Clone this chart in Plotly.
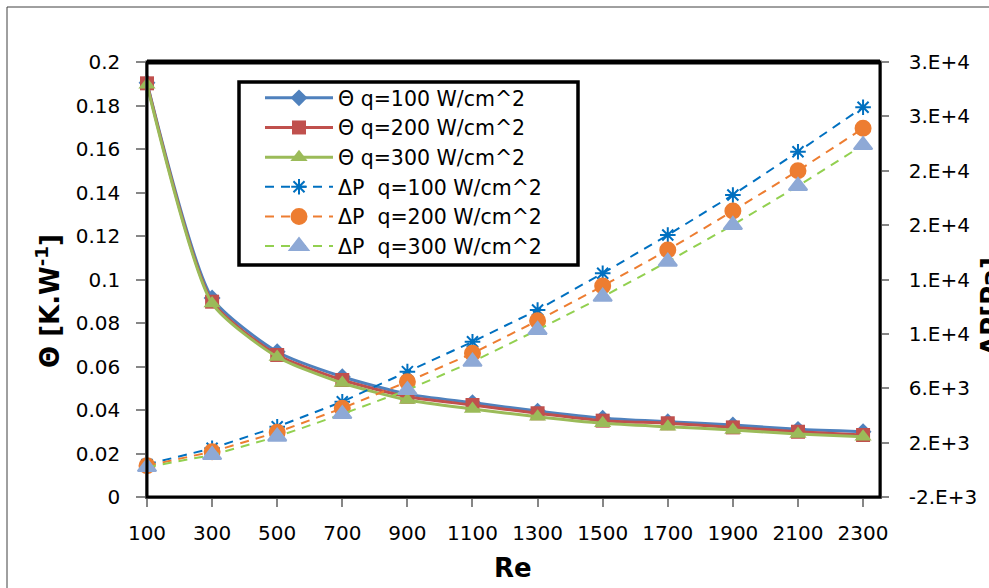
import plotly.graph_objects as go

# ---------------- data ----------------
re_vals = [100, 300, 500, 700, 900, 1100, 1300, 1500, 1700, 1900, 2100, 2300]

theta_q100 = [0.1905, 0.0915, 0.0668, 0.0553, 0.0473, 0.0434, 0.0395, 0.0362, 0.0346, 0.0331, 0.0311, 0.0300]
theta_q200 = [0.1902, 0.0898, 0.0653, 0.0538, 0.0461, 0.0423, 0.0385, 0.0351, 0.0339, 0.0320, 0.0300, 0.0285]
theta_q300 = [0.1895, 0.0890, 0.0644, 0.0524, 0.0446, 0.0405, 0.0369, 0.0339, 0.0323, 0.0308, 0.0290, 0.0277]

dp_q100 = [400, 1580, 3170, 5010, 7220, 9420, 11760, 14460, 17270, 20220, 23400, 26670]
dp_q200 = [300, 1330, 2760, 4530, 6480, 8570, 10970, 13520, 16170, 19040, 22000, 25120]
dp_q300 = [200, 1090, 2440, 4100, 5870, 7950, 10290, 12730, 15310, 18010, 20880, 23890]

theta_names = ["Θ q=100 W/cm^2", "Θ q=200 W/cm^2", "Θ q=300 W/cm^2"]
dp_names = ["ΔP\u00a0\u00a0q=100 W/cm^2", "ΔP\u00a0\u00a0q=200 W/cm^2", "ΔP\u00a0\u00a0q=300 W/cm^2"]

left_ticks = [0, 0.02, 0.04, 0.06, 0.08, 0.1, 0.12, 0.14, 0.16, 0.18, 0.2]
left_labels = ["0", "0.02", "0.04", "0.06", "0.08", "0.1", "0.12", "0.14", "0.16", "0.18", "0.2"]
right_ticks = [-2000, 2000, 6000, 10000, 14000, 18000, 22000, 26000, 30000]
right_labels = ["-2.E+3", "2.E+3", "6.E+3", "1.E+4", "1.E+4", "2.E+4", "2.E+4", "3.E+4", "3.E+4"]

FONT = "DejaVu Sans"

fig = go.Figure()

# Theta series (primary axis)
theta_series = [theta_q100, theta_q200, theta_q300]
theta_colors = ["#4F81BD", "#C0504D", "#9BBB59"]
theta_symbols = ["diamond", "square", "triangle-up"]
theta_sizes = [13, 14, 15]
for vals, name, col, sym, sz in zip(theta_series, theta_names, theta_colors, theta_symbols, theta_sizes):
    fig.add_trace(go.Scatter(
        x=re_vals, y=vals, name=name, mode="lines+markers",
        line=dict(color=col, width=3, shape="spline", smoothing=0.6),
        marker=dict(symbol=sym, size=sz, color=col),
        cliponaxis=False,
    ))

# Delta P series (secondary axis)
dp_series = [dp_q100, dp_q200, dp_q300]
dp_line_colors = ["#0070C0", "#ED7D31", "#92D050"]
dp_marker_colors = ["#0070C0", "#ED7D31", "#8EA9D6"]
dp_symbols = ["asterisk-open", "circle", "triangle-up"]
dp_sizes = [13, 15, 16]
for vals, name, lc, mc, sym, sz in zip(dp_series, dp_names, dp_line_colors, dp_marker_colors, dp_symbols, dp_sizes):
    fig.add_trace(go.Scatter(
        x=re_vals, y=vals, name=name, mode="lines+markers", yaxis="y2",
        line=dict(color=lc, width=2, dash="9px,7px"),
        marker=dict(symbol=sym, size=sz, color=mc, line=dict(color=mc, width=2)),
        cliponaxis=False,
    ))

W, H = 989, 588
L, R, T, B = 147, 880, 62, 497


def px_x(p):
    return (p - L) / (R - L)


def px_y(p):
    return (B - p) / (B - T)


fig.update_layout(
    width=W, height=H,
    margin=dict(l=L, r=W - R, t=T, b=H - B),
    paper_bgcolor="white", plot_bgcolor="white",
    font=dict(family=FONT, size=20, color="black"),
    showlegend=True,
    xaxis=dict(
        range=[100, 2352], tickvals=re_vals, ticktext=[str(v) for v in re_vals],
        ticks="outside", ticklen=8, tickcolor="#868686", tickwidth=1.5,
        showgrid=False, zeroline=False, showline=True, linecolor="#868686", linewidth=1.5,
        tickfont=dict(family=FONT, size=20), ticklabelstandoff=9,
    ),
    yaxis=dict(
        range=[0, 0.2], tickvals=left_ticks, ticktext=left_labels,
        ticks="outside", ticklen=9, tickcolor="#868686", tickwidth=1.5,
        showgrid=False, zeroline=False, showline=True, linecolor="#868686", linewidth=1.5,
        tickfont=dict(family=FONT, size=20), ticklabelstandoff=12,
    ),
    yaxis2=dict(
        range=[-2000, 30000], tickvals=right_ticks, ticktext=right_labels,
        overlaying="y", side="right",
        ticks="outside", ticklen=7, tickcolor="#868686", tickwidth=1.5,
        showgrid=False, zeroline=False, showline=True, linecolor="#868686", linewidth=1.5,
        tickfont=dict(family=FONT, size=20), ticklabelstandoff=16,
    ),
    legend=dict(
        x=px_x(260), y=px_y(78), xanchor="left", yanchor="top",
        bgcolor="rgba(0,0,0,0)", borderwidth=0,
        font=dict(family=FONT, size=20.5), itemwidth=68,
        traceorder="normal", tracegroupgap=0,
    ),
)

# legend frame
fig.add_shape(type="rect", xref="paper", yref="paper",
              x0=px_x(239), y0=px_y(265), x1=px_x(578), y1=px_y(82),
              line=dict(color="black", width=3.5), fillcolor="white", layer="below")

# plot-area border and outer chart border
fig.add_shape(type="rect", xref="paper", yref="paper", x0=0, y0=0, x1=1, y1=1,
              line=dict(color="black", width=3), layer="above")
fig.add_shape(type="line", xref="paper", yref="paper", x0=0, y0=1, x1=1, y1=1,
              line=dict(color="black", width=5), layer="above")
fig.add_shape(type="rect", xref="paper", yref="paper",
              x0=px_x(7), y0=px_y(700), x1=px_x(1100), y1=px_y(7),
              line=dict(color="#404040", width=1), layer="below")

# axis titles
fig.add_annotation(text="<b>Re</b>", xref="paper", yref="paper",
                   x=px_x(513), y=px_y(568), xanchor="center", yanchor="middle",
                   showarrow=False, font=dict(family=FONT, size=26))
fig.add_annotation(text="<b>Θ [K.W<sup>-1</sup>]</b>", xref="paper", yref="paper",
                   x=px_x(48), y=px_y(301), xanchor="center", yanchor="middle",
                   textangle=-90, showarrow=False, font=dict(family=FONT, size=26))
fig.add_annotation(text="<b>ΔP[Pa]</b>", xref="paper", yref="paper",
                   x=px_x(991), y=px_y(307), xanchor="center", yanchor="middle",
                   textangle=-90, showarrow=False, font=dict(family=FONT, size=26))

fig.write_html("out.html")
